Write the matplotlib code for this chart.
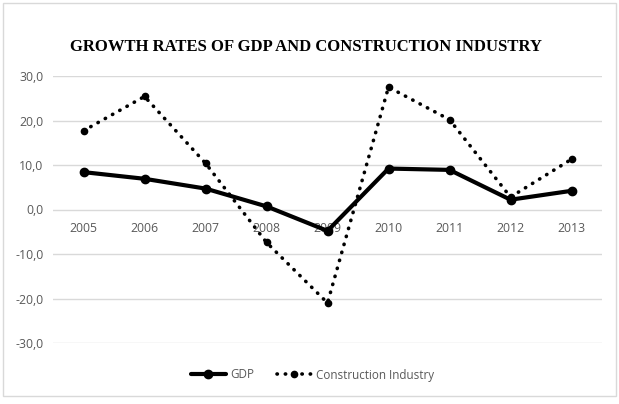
import matplotlib.pyplot as plt
from matplotlib.patches import Rectangle

years = ['2005', '2006', '2007', '2008', '2009', '2010', '2011', '2012', '2013']
gdp = [8.4, 6.9, 4.7, 0.7, -4.8, 9.2, 8.9, 2.2, 4.2]
construction = [17.7, 25.4, 10.4, -7.4, -21.0, 27.5, 20.2, 2.8, 11.3]
yticks = [-30, -20, -10, 0, 10, 20, 30]

fig = plt.figure(figsize=(6.19, 4.04), dpi=100)
ax = fig.add_axes([53/619, 1-343/404, (602-53)/619, (343-76)/404])

x = list(range(len(years)))
ax.plot(x, gdp, color='black', linewidth=3, marker='o', markersize=6,
        solid_capstyle='round', label='GDP', zorder=3)
ax.plot(x, construction, color='black', linewidth=2.6, linestyle=(0, (0.1, 2.2)),
        dash_capstyle='round', marker='o', markersize=4.5, label='Construction Industry', zorder=3)

ax.set_xlim(-0.5, len(years)-0.5)
ax.set_ylim(-30, 30)
ax.set_yticks(yticks)
ax.set_yticklabels([f'{v:.1f}'.replace('.', ',') for v in yticks])
ax.set_xticks(x)
ax.set_xticklabels(years)

for s in ['top', 'right', 'left']:
    ax.spines[s].set_visible(False)
ax.spines['bottom'].set_position(('data', 0))
ax.spines['bottom'].set_visible(False)
ax.grid(axis='y', color='#d9d9d9', linewidth=1)
ax.set_axisbelow(True)
ax.tick_params(axis='both', length=0, labelsize=8.8, labelcolor='#595959')
ax.tick_params(axis='x', pad=9)
ax.tick_params(axis='y', pad=7)
for lbl in ax.get_xticklabels() + ax.get_yticklabels():
    lbl.set_family('Open Sans')

fig.text(0.495, 1-47/404, 'GROWTH RATES OF GDP AND CONSTRUCTION INDUSTRY',
         ha='center', va='center', fontsize=12, fontweight='bold',
         family='Liberation Serif')

leg = fig.legend(loc='center', bbox_to_anchor=(0.505, 1-375/404), ncol=2, frameon=False,
                 numpoints=1, handlelength=3.0, handletextpad=0.4, columnspacing=1.9,
                 prop={'family': 'Open Sans', 'size': 8.4})
for t in leg.get_texts():
    t.set_color('#595959')

fig.patches.append(Rectangle((3/619, 1-396/404), 613/619, 393/404, transform=fig.transFigure,
                             fill=False, edgecolor='#d9d9d9', linewidth=1))

fig.savefig('out.png', dpi=100)
